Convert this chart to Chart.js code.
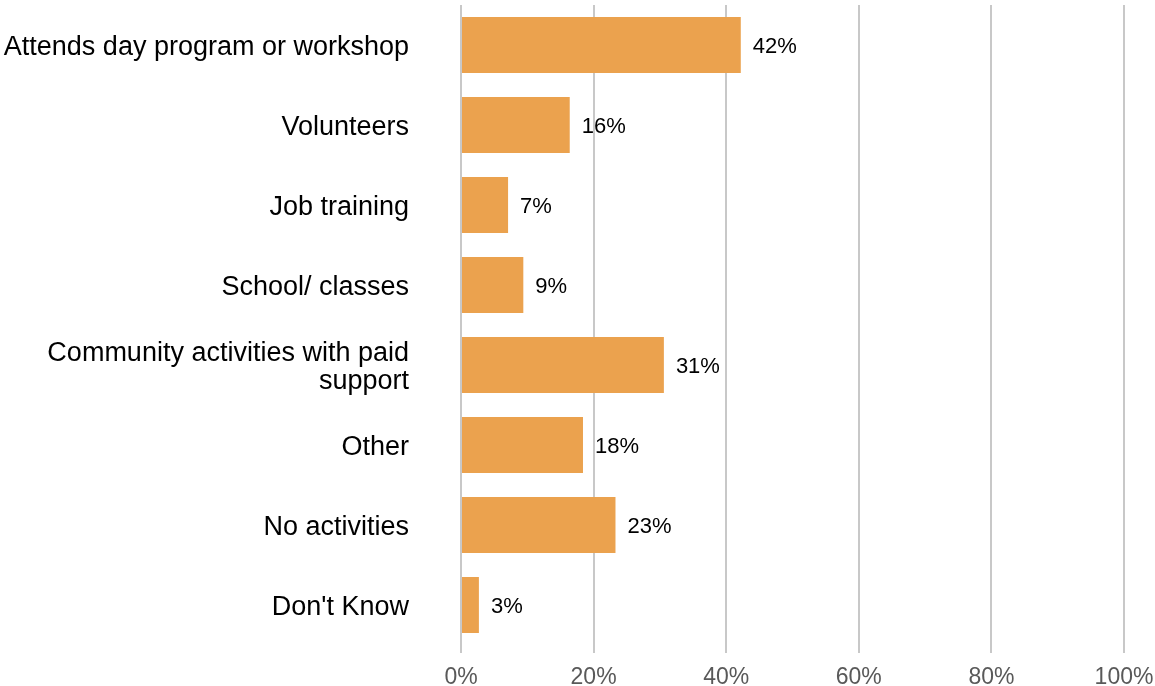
<!DOCTYPE html>
<html lang="en">
<head>
<meta charset="UTF-8">
<title>Activities</title>
<style>
  html, body { margin: 0; padding: 0; background: #fff; }
  #wrap { width: 1155px; height: 686px; }
</style>
</head>
<body>
<div id="wrap"><canvas id="myChart" width="1155" height="686"></canvas></div>

<script src="https://cdn.jsdelivr.net/npm/chart.js"></script>
<script>
  const categories = [
    'Attends day program or workshop',
    'Volunteers',
    'Job training',
    'School/ classes',
    ['Community activities with paid', 'support'],
    'Other',
    'No activities',
    "Don't Know"
  ];
  const values = [42.2, 16.4, 7.1, 9.4, 30.6, 18.4, 23.3, 2.7];
  const xTicks = [0, 20, 40, 60, 80, 100];

  // value labels at the end of each bar
  const barLabels = {
    id: 'barLabels',
    afterDatasetsDraw(chart) {
      const c = chart.ctx;
      const meta = chart.getDatasetMeta(0);
      c.save();
      c.font = '22px "Liberation Sans", Arial, sans-serif';
      c.fillStyle = '#000';
      c.textAlign = 'left';
      c.textBaseline = 'middle';
      meta.data.forEach((bar, i) => {
        c.fillText(Math.round(values[i]) + '%', bar.x + 12, bar.y + 2);
      });
      c.restore();
    }
  };

  const ctx = document.getElementById('myChart');
  new Chart(ctx, {
    type: 'bar',
    data: {
      labels: categories,
      datasets: [{
        data: values,
        backgroundColor: '#EBA24E',
        categoryPercentage: 1,
        barPercentage: 0.7
      }]
    },
    options: {
      indexAxis: 'y',
      responsive: false,
      animation: false,
      layout: { padding: { top: 5, right: 31, bottom: 0, left: 0 } },
      plugins: { legend: { display: false }, tooltip: { enabled: false } },
      scales: {
        x: {
          min: 0,
          max: 100,
          afterBuildTicks(scale) { scale.ticks = xTicks.map(v => ({ value: v })); },
          afterFit(scale) {
            scale.height = 41;
            scale.paddingLeft = 0;
            scale.paddingRight = 0;
          },
          grid: { color: '#c8c8c8', lineWidth: 2, drawTicks: true, tickLength: 8, tickColor: '#c8c8c8' },
          border: { display: false },
          ticks: {
            callback: v => v + '%',
            color: '#595959',
            font: { family: '"Liberation Sans", Arial, sans-serif', size: 23 },
            padding: 11,
            maxRotation: 0
          }
        },
        y: {
          afterFit(scale) {
            scale.width = 461;
            scale.paddingTop = 0;
            scale.paddingBottom = 0;
          },
          grid: { display: false, drawTicks: false },
          border: { display: false },
          ticks: {
            color: '#000',
            font: { family: '"Liberation Sans", Arial, sans-serif', size: 27, lineHeight: 1.05 },
            padding: 52,
            labelOffset: 2.5
          }
        }
      }
    },
    plugins: [barLabels]
  });
</script>
</body>
</html>
